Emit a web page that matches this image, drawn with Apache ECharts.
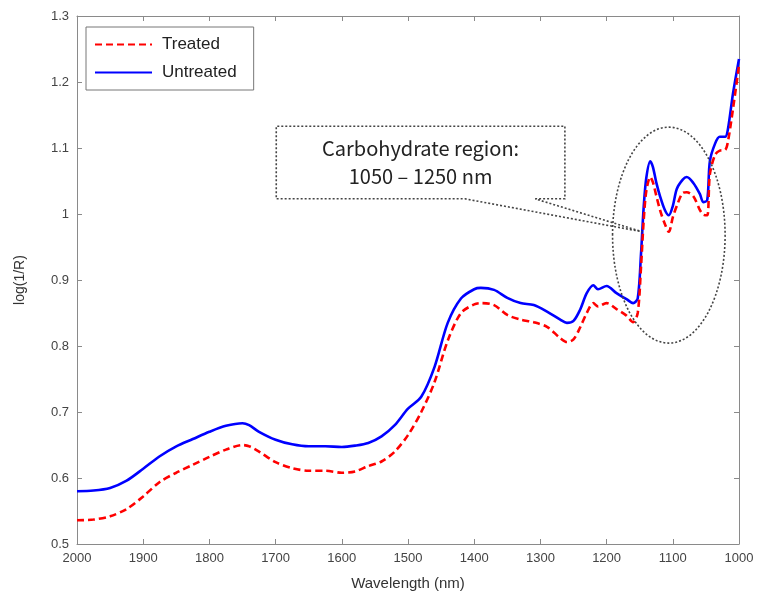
<!DOCTYPE html>
<html>
<head>
<meta charset="utf-8">
<script src="https://cdn.jsdelivr.net/npm/echarts@6/dist/echarts.min.js"></script>
<style>
html,body{margin:0;padding:0;background:#fff;}
#c{width:760px;height:598px;}
</style>
</head>
<body>
<div id="c"></div>
<script>
// Wavelengths (nm)
var wavelengths = [2000,1975,1950,1925,1900,1875,1850,1825,1800,1775,1750,1740,1725,1700,1675,1650,1625,1600,1580,1560,1540,1520,1500,1480,1460,1440,1420,1400,1390,1370,1350,1330,1310,1290,1270,1260,1250,1240,1230,1220,1213,1200,1185,1170,1160,1153,1148,1144,1140,1134,1130,1125,1119,1112,1106,1100,1094,1085,1079,1069,1059,1054,1048,1044,1036,1029,1021,1017,1009,1000];
// log(1/R) – Untreated
var untreated = [0.580,0.581,0.585,0.596,0.614,0.633,0.648,0.659,0.670,0.679,0.683,0.680,0.670,0.658,0.651,0.648,0.648,0.647,0.649,0.653,0.663,0.680,0.705,0.723,0.768,0.835,0.872,0.886,0.888,0.885,0.873,0.865,0.862,0.852,0.840,0.835,0.838,0.855,0.880,0.892,0.886,0.891,0.880,0.871,0.865,0.872,0.940,1.010,1.055,1.080,1.071,1.048,1.026,1.006,0.998,1.012,1.038,1.052,1.056,1.047,1.030,1.018,1.021,1.080,1.107,1.117,1.117,1.127,1.183,1.235];
// log(1/R) – Treated
var treated = [0.536,0.537,0.542,0.553,0.572,0.594,0.608,0.620,0.632,0.643,0.650,0.648,0.640,0.624,0.615,0.611,0.611,0.608,0.610,0.618,0.625,0.640,0.665,0.700,0.745,0.808,0.850,0.863,0.865,0.862,0.847,0.840,0.836,0.829,0.812,0.806,0.810,0.828,0.850,0.865,0.860,0.865,0.856,0.846,0.836,0.850,0.920,0.990,1.035,1.056,1.048,1.028,1.005,0.985,0.973,0.995,1.012,1.032,1.033,1.027,1.006,0.999,0.998,1.060,1.090,1.096,1.097,1.108,1.160,1.225];
var seriesNames = ['Treated','Untreated'];
var annotationLines = ['Carbohydrate region:', '1050 \u2013 1250 nm'];

function pairs(vals){ return wavelengths.map(function(w,i){ return [w, vals[i]]; }); }

var chart = echarts.init(document.getElementById('c'), null, {renderer:'canvas'});
var axisColor = '#8a8a8a';
var FONT = 'Liberation Sans, Arial, sans-serif';
var labelStyle = {color:'#444', fontSize:13, fontFamily:FONT};
var baseX = {
  type:'value', min:1000, max:2000, interval:100, inverse:true,
  axisLine:{show:true, onZero:false, lineStyle:{color:axisColor, width:1}},
  axisTick:{show:true, inside:true, length:5, lineStyle:{color:axisColor}},
  splitLine:{show:false}
};
var baseY = {
  type:'value', min:0.5, max:1.3, interval:0.1,
  axisLine:{show:true, onZero:false, lineStyle:{color:axisColor, width:1}},
  axisTick:{show:true, inside:true, length:5, lineStyle:{color:axisColor}},
  splitLine:{show:false}
};
chart.setOption({
  animation:false,
  backgroundColor:'#fff',
  grid:{left:77, right:21, top:16, bottom:54, containLabel:false},
  xAxis:[
    Object.assign({}, baseX, {position:'bottom',
      axisLabel:Object.assign({margin:8, formatter:function(v){return String(Math.round(v));}}, labelStyle),
      name:'Wavelength (nm)', nameLocation:'middle', nameGap:32,
      nameTextStyle:{color:'#333', fontSize:15, fontFamily:FONT}}),
    Object.assign({}, baseX, {position:'top', axisLabel:{show:false}})
  ],
  yAxis:[
    Object.assign({}, baseY, {position:'left',
      axisLabel:Object.assign({margin:8, formatter:function(v){return String(Math.round(v*10)/10);}}, labelStyle),
      name:'log(1/R)', nameLocation:'middle', nameGap:50,
      nameTextStyle:{color:'#333', fontSize:14, fontFamily:FONT}}),
    Object.assign({}, baseY, {position:'right', axisLabel:{show:false}})
  ],
  legend:{
    left:86, top:27, orient:'vertical',
    data:seriesNames,
    itemWidth:57, itemHeight:14, itemGap:11,
    padding:[9,17,9,8],
    borderColor:'#777', borderWidth:1, backgroundColor:'#fff',
    itemStyle:{opacity:0},
    textStyle:{color:'#222', fontSize:17, fontFamily:FONT, padding:[0,0,0,5]}
  },
  series:[
    {name:seriesNames[0], type:'line', data:pairs(treated), showSymbol:false, symbol:'none', smooth:0.3,
     lineStyle:{color:'#ff0000', width:2.6, type:[7,4]}, itemStyle:{color:'#ff0000'}, z:3},
    {name:seriesNames[1], type:'line', data:pairs(untreated), showSymbol:false, symbol:'none', smooth:0.3,
     lineStyle:{color:'#0000ff', width:2.6}, itemStyle:{color:'#0000ff'}, z:2}
  ]
});

// Annotation (callout box and ellipse) placed in data coordinates
function px(w, v){ return chart.convertToPixel({xAxisIndex:0, yAxisIndex:0}, [w, v]); }
var tl = px(1699, 1.133), br = px(1263, 1.023);
var g1 = px(1414, 1.023), g2 = px(1308, 1.023), tip = px(1146, 0.973);
var ec = px(1106, 0.968), er = px(1021, 0.968), et = px(1106, 1.1316);
var dotted = {stroke:'#444', lineWidth:1.6, lineDash:[2,2], fill:null};
chart.setOption({
  graphic:[
    {type:'polyline', z:50, shape:{points:[
      [g2[0], br[1]], [br[0], br[1]], [br[0], tl[1]], [tl[0], tl[1]], [tl[0], br[1]], [g1[0], br[1]], [tip[0], tip[1]], [g2[0], br[1]]
    ]}, style:dotted},
    {type:'text', z:51, style:{x:(tl[0]+br[0])/2, y:(tl[1]+br[1])/2, text:annotationLines.join('\n'),
      align:'center', verticalAlign:'middle', fill:'#222', fontSize:20, lineHeight:28,
      fontFamily:'Noto Sans CJK KR, Open Sans, sans-serif'}},
    {type:'ellipse', z:50, shape:{cx:ec[0], cy:ec[1], rx:er[0]-ec[0], ry:ec[1]-et[1]}, style:dotted}
  ]
});
</script>
</body>
</html>
